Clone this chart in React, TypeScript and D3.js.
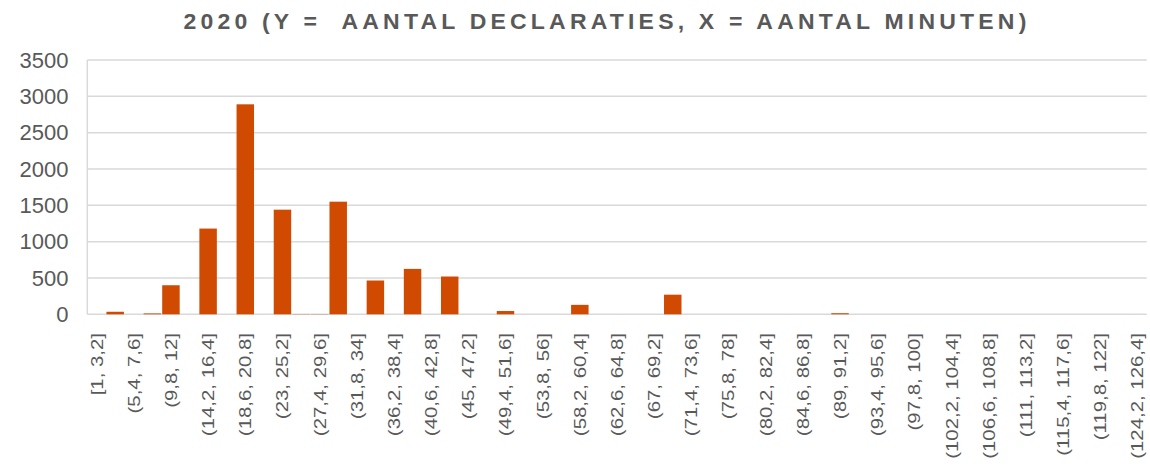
import React from "react";
import * as d3 from "d3";

const TITLE = "2020 (Y =  AANTAL DECLARATIES, X = AANTAL MINUTEN)";

const binLabels: string[] = [
  "[1, 3,2]", "(3,2, 5,4]", "(5,4, 7,6]", "(7,6, 9,8]", "(9,8, 12]", "(12, 14,2]",
  "(14,2, 16,4]", "(16,4, 18,6]", "(18,6, 20,8]", "(20,8, 23]", "(23, 25,2]", "(25,2, 27,4]",
  "(27,4, 29,6]", "(29,6, 31,8]", "(31,8, 34]", "(34, 36,2]", "(36,2, 38,4]", "(38,4, 40,6]",
  "(40,6, 42,8]", "(42,8, 45]", "(45, 47,2]", "(47,2, 49,4]", "(49,4, 51,6]", "(51,6, 53,8]",
  "(53,8, 56]", "(56, 58,2]", "(58,2, 60,4]", "(60,4, 62,6]", "(62,6, 64,8]", "(64,8, 67]",
  "(67, 69,2]", "(69,2, 71,4]", "(71,4, 73,6]", "(73,6, 75,8]", "(75,8, 78]", "(78, 80,2]",
  "(80,2, 82,4]", "(82,4, 84,6]", "(84,6, 86,8]", "(86,8, 89]", "(89, 91,2]", "(91,2, 93,4]",
  "(93,4, 95,6]", "(95,6, 97,8]", "(97,8, 100]", "(100, 102,2]", "(102,2, 104,4]", "(104,4, 106,6]",
  "(106,6, 108,8]", "(108,8, 111]", "(111, 113,2]", "(113,2, 115,4]", "(115,4, 117,6]", "(117,6, 119,8]",
  "(119,8, 122]", "(122, 124,2]", "(124,2, 126,4]",
];

const counts: number[] = [
  0, 35, 0, 12, 400, 0,
  1180, 0, 2890, 0, 1440, 3,
  3, 1550, 0, 465, 0, 625,
  0, 520, 0, 0, 45, 0,
  0, 0, 130, 0, 0, 0,
  0, 270, 0, 0, 0, 0,
  0, 0, 0, 0, 15, 0,
  0, 0, 0, 0, 0, 0,
  0, 0, 0, 0, 0, 0,
  0, 0, 0,
];

const yTicks: number[] = [0, 500, 1000, 1500, 2000, 2500, 3000, 3500];

const W = 1150;
const H = 466;
const LEFT = 87.3;
const RIGHT = 1146.7;
const TOP = 60;
const BOTTOM = 314.3;
const TEXT = "#595959";
const BAR = "#D04A02";
const GRID = "#D9D9D9";
const FONT = "'Liberation Sans', Arial, sans-serif";

export default function App() {
  const x = d3
    .scaleBand<string>()
    .domain(binLabels)
    .range([LEFT, RIGHT])
    .paddingInner(0.06)
    .paddingOuter(0.03);
  const y = d3.scaleLinear().domain([0, 3500]).range([BOTTOM, TOP]);

  return (
    <svg
      width={W}
      height={H}
      style={{ position: "absolute", left: 0, top: 0, display: "block", background: "#fff" }}
    >
      <text
        x={W / 2 + 32}
        y={28.5}
        textAnchor="middle"
        fontFamily={FONT}
        fontWeight="bold"
        fontSize={22}
        letterSpacing={4}
        fill={TEXT}
        textLength={847}
        lengthAdjust="spacingAndGlyphs"
        style={{ whiteSpace: "pre" }}
      >
        {TITLE}
      </text>

      {yTicks.map((t) => (
        <g key={t}>
          <line x1={LEFT} x2={RIGHT} y1={y(t)} y2={y(t)} stroke={GRID} strokeWidth={1.5} />
          <text
            x={68.5}
            y={y(t)}
            dy="0.35em"
            textAnchor="end"
            fontFamily={FONT}
            fontSize={22}
            fill={TEXT}
          >
            {t}
          </text>
        </g>
      ))}
      <line x1={LEFT} x2={LEFT} y1={TOP} y2={BOTTOM} stroke={GRID} strokeWidth={1.5} />

      {binLabels.map((b, i) =>
        counts[i] > 0 ? (
          <rect
            key={b}
            x={x(b)}
            width={x.bandwidth()}
            y={y(counts[i])}
            height={BOTTOM - y(counts[i])}
            fill={BAR}
          />
        ) : null
      )}

      {binLabels.map((b, i) =>
        i % 2 === 0 ? (
          <text
            key={"l" + b}
            transform={`translate(${(x(b) as number) + x.bandwidth() / 2},333) rotate(-90) scale(1.2,1)`}
            dy="0.35em"
            textAnchor="end"
            fontFamily={FONT}
            fontSize={17}
            fill={TEXT}
          >
            {b}
          </text>
        ) : null
      )}
    </svg>
  );
}
